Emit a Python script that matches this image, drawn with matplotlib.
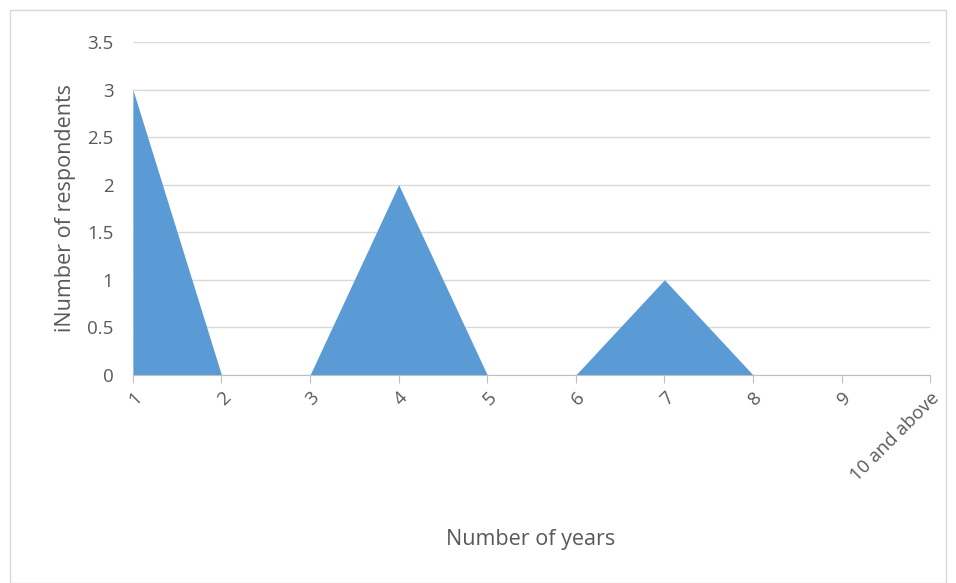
import matplotlib
matplotlib.use('Agg')
import matplotlib.pyplot as plt
import numpy as np

categories = ["1", "2", "3", "4", "5", "6", "7", "8", "9", "10 and above"]
respondents = [3, 0, 0, 2, 0, 0, 1, 0, 0, 0]

text_color = '#595959'
fill_color = '#5B9BD5'
grid_color = '#D9D9D9'

plt.rcParams['font.family'] = ['Open Sans', 'DejaVu Sans']

fig = plt.figure(figsize=(9.56, 5.83), dpi=100)
# light outer frame like the spreadsheet chart area
fig.patches.append(plt.Rectangle((10 / 956, 0), 936 / 956, 573 / 583, transform=fig.transFigure,
                                 fill=False, edgecolor='#D9D9D9', linewidth=1))
ax = fig.add_axes([0.139, 0.357, 0.834, 0.571])

x = np.arange(len(categories))
ax.fill_between(x, respondents, 0, color=fill_color, linewidth=0)

ax.set_xlim(0, len(categories) - 1)
ax.set_ylim(0, 3.5)
ax.set_yticks(np.arange(0, 3.51, 0.5))
ax.set_yticklabels(['0', '0.5', '1', '1.5', '2', '2.5', '3', '3.5'])
ax.yaxis.grid(True, color=grid_color, linewidth=1)
ax.set_axisbelow(True)

ax.set_xticks(x)
ax.set_xticklabels(categories, rotation=45, ha='right', rotation_mode='anchor')
ax.tick_params(axis='x', length=6, color='#BFBFBF', labelsize=13.5, labelcolor=text_color, pad=4)
ax.tick_params(axis='y', length=0, labelsize=13.5, labelcolor=text_color, pad=14)

for s in ['top', 'right', 'left']:
    ax.spines[s].set_visible(False)
ax.spines['bottom'].set_color('#BFBFBF')

ax.set_ylabel('iNumber of respondents', fontsize=15.5, color=text_color, labelpad=8)
fig.text(0.555, 1 - 540 / 583, 'Number of years', ha='center', va='center', fontsize=15.5, color=text_color)

plt.savefig('out.png', dpi=100)
plt.close()
